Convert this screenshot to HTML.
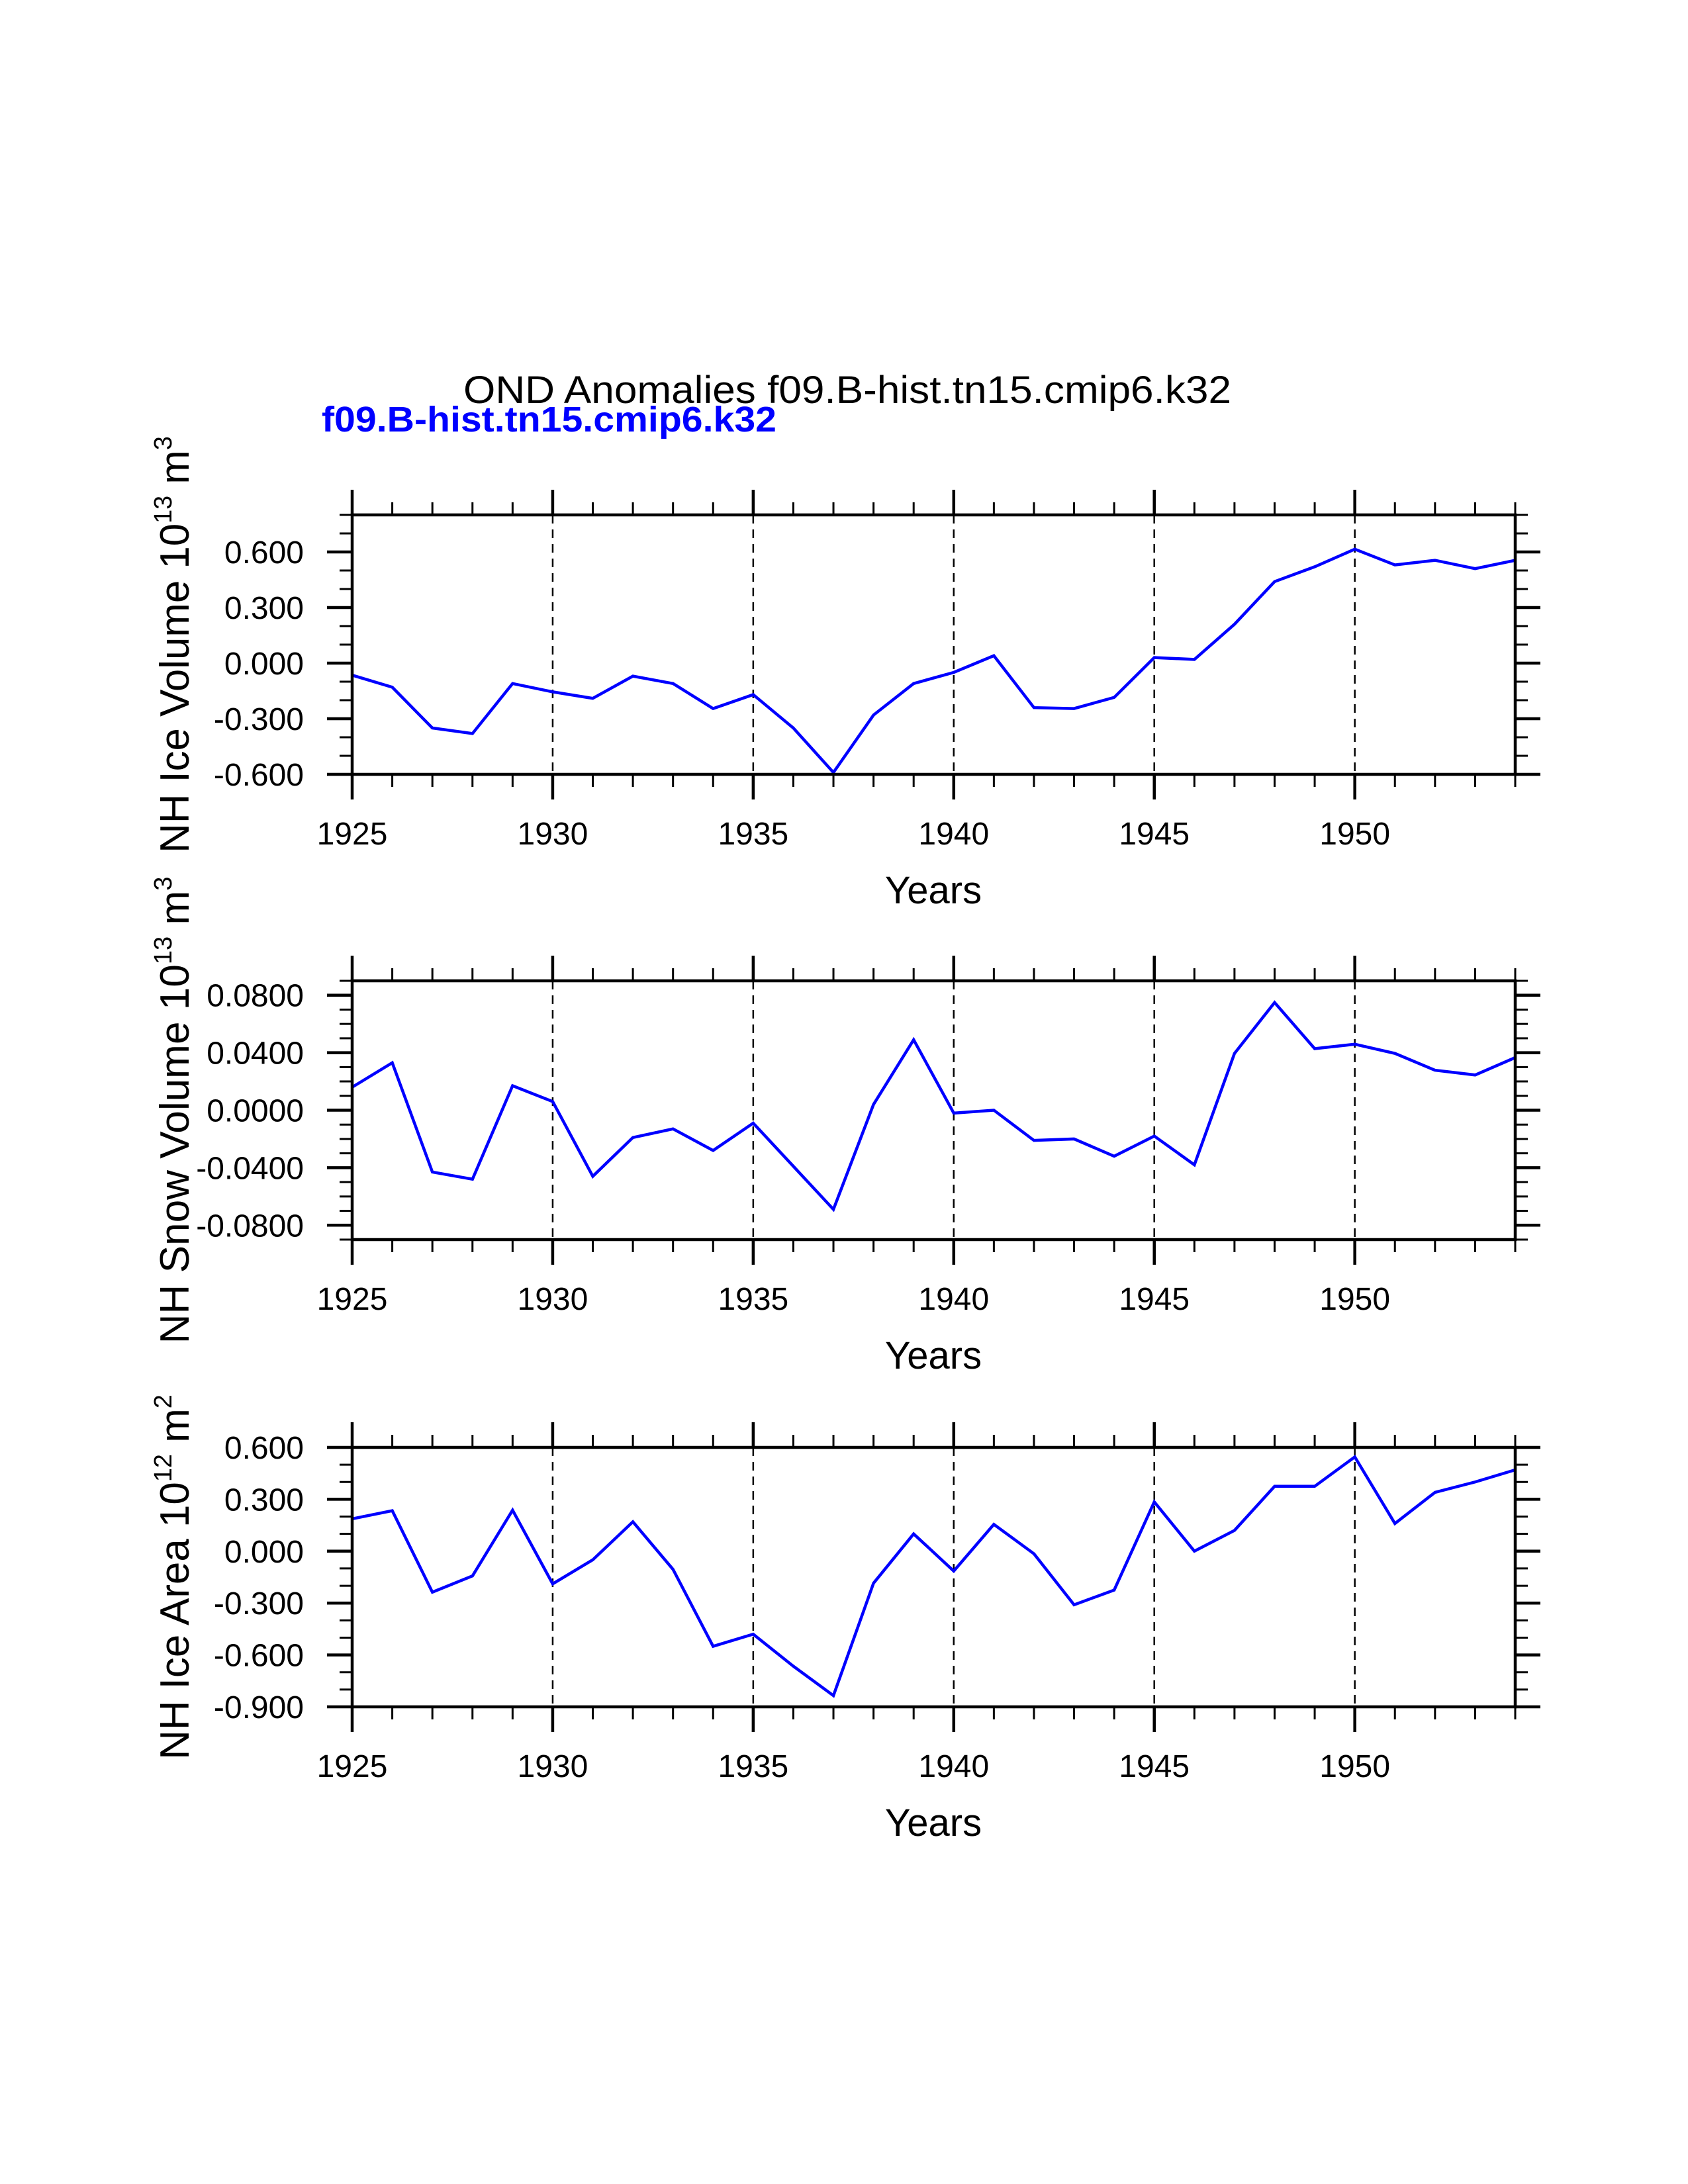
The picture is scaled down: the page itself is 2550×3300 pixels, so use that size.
<!DOCTYPE html>
<html><head><meta charset="utf-8"><style>
html,body{margin:0;padding:0;background:#fff;}
svg{display:block;font-family:"Liberation Sans",Arial,sans-serif;}
</style></head><body>
<svg id="chart" width="2550" height="3300" viewBox="0 0 2550 3300" xmlns="http://www.w3.org/2000/svg">
<rect width="2550" height="3300" fill="#fff"/>
<text x="1280" y="609" font-size="58" text-anchor="middle" textLength="1160" lengthAdjust="spacingAndGlyphs">OND Anomalies f09.B-hist.tn15.cmip6.k32</text>
<text x="486" y="652" font-size="54" font-weight="bold" fill="#0000ff" textLength="687" lengthAdjust="spacingAndGlyphs">f09.B-hist.tn15.cmip6.k32</text>
<g id="plots"></g>
</svg>
<script>
const years = [];
for (let y = 1925; y <= 1954; y++) years.push(y);
const xTickLabels = ["1925","1930","1935","1940","1945","1950"];

const iceVolume = [-0.065,-0.13,-0.35,-0.38,-0.11,-0.155,-0.19,-0.07,-0.11,-0.245,-0.17,-0.35,-0.59,-0.28,-0.11,-0.05,0.04,-0.24,-0.245,-0.185,0.03,0.02,0.21,0.44,0.52,0.615,0.53,0.555,0.51,0.555];
const snowVolume = [0.016,0.033,-0.043,-0.048,0.017,0.006,-0.046,-0.019,-0.013,-0.028,-0.009,-0.039,-0.069,0.004,0.049,-0.002,0.000,-0.021,-0.020,-0.032,-0.018,-0.038,0.0395,0.0749,0.0428,0.0459,0.0395,0.0278,0.0245,0.0366];
const iceArea = [0.187,0.234,-0.237,-0.143,0.237,-0.189,-0.05,0.17,-0.105,-0.55,-0.48,-0.665,-0.835,-0.185,0.1,-0.115,0.155,-0.015,-0.31,-0.225,0.285,0.0,0.12,0.375,0.375,0.545,0.16,0.34,0.40,0.47];

const iceVolumeTicks = ["0.600","0.300","0.000","-0.300","-0.600"];
const snowVolumeTicks = ["0.0800","0.0400","0.0000","-0.0400","-0.0800"];
const iceAreaTicks = ["0.600","0.300","0.000","-0.300","-0.600","-0.900"];

const NS = "http://www.w3.org/2000/svg";
const root = document.getElementById("plots");
const X0 = 532, X1 = 2289;
function xScale(yr){ return X0 + (yr - 1925) * (X1 - X0) / 29; }

function mk(tag, attrs, parent){
  const e = document.createElementNS(NS, tag);
  for (const k in attrs) e.setAttribute(k, attrs[k]);
  parent.appendChild(e);
  return e;
}

const panels = [
  {key:"ice-volume", top:778, bottom:1170, ymin:-0.6, ymax:0.8, minor:0.1, data:iceVolume, labels:iceVolumeTicks, title:"NH Ice Volume 10", exp:"13", unit:" m", uexp:"3", tlen:630},
  {key:"snow-volume", top:1482, bottom:1873, ymin:-0.09, ymax:0.09, minor:0.01, data:snowVolume, labels:snowVolumeTicks, title:"NH Snow Volume 10", exp:"13", unit:" m", uexp:"3", tlen:706},
  {key:"ice-area", top:2187, bottom:2579, ymin:-0.9, ymax:0.6, minor:0.1, data:iceArea, labels:iceAreaTicks, title:"NH Ice Area 10", exp:"12", unit:" m", uexp:"2", tlen:552}
];

panels.forEach(p => {
  const g = mk("g", {}, root);
  
  
  const yScale = v => p.bottom - (v - p.ymin) * (p.bottom - p.top) / (p.ymax - p.ymin);

  xTickLabels.forEach(lbl => {
    const x = xScale(+lbl);
    if (+lbl === 1925) return;
    const l = mk("line", {x1:x, x2:x, y1:p.top, y2:p.bottom, stroke:"#000", "stroke-width":2.5, "stroke-dasharray":"13,9"}, g);
    
    
  });

  years.forEach(yr => {
    const x = xScale(yr);
    const major = (yr - 1925) % 5 === 0;
    const len = major ? 38 : 19;
    const w = major ? 4.5 : 3;
    const t1 = mk("line", {x1:x, x2:x, y1:p.bottom, y2:p.bottom + len, stroke:"#000", "stroke-width":w}, g);
    
    
    const t2 = mk("line", {x1:x, x2:x, y1:p.top, y2:p.top - len, stroke:"#000", "stroke-width":w}, g);
    
    
  });

  const nMinor = Math.round((p.ymax - p.ymin) / p.minor);
  const majorVals = p.labels.map(Number);
  for (let i = 0; i <= nMinor; i++) {
    const v = p.ymin + i * p.minor;
    const y = yScale(v);
    const major = majorVals.some(m => Math.abs(m - v) < p.minor / 10);
    const len = major ? 38 : 19;
    const w = major ? 4.5 : 3;
    const a = mk("line", {x1:X0, x2:X0 - len, y1:y, y2:y, stroke:"#000", "stroke-width":w}, g);
    
    
    const b = mk("line", {x1:X1, x2:X1 + len, y1:y, y2:y, stroke:"#000", "stroke-width":w}, g);
    
    
  }

  p.labels.forEach(lbl => {
    const t = mk("text", {x:459, y:yScale(+lbl) + 17, "font-size":48, "text-anchor":"end"}, g);
    t.textContent = lbl;
    
    
  });

  xTickLabels.forEach(lbl => {
    const t = mk("text", {x:xScale(+lbl), y:p.bottom + 106, "font-size":48, "text-anchor":"middle"}, g);
    t.textContent = lbl;
    
    
  });

  const xt = mk("text", {x:1410, y:p.bottom + 195, "font-size":58, "text-anchor":"middle"}, g);
  xt.textContent = "Years";
  
  

  const cy = (p.top + p.bottom) / 2;
  const yt = mk("text", {x:0, y:0, "font-size":62, "text-anchor":"middle", transform:"translate(285," + cy + ") rotate(-90)"}, g);
  
  
  const s1 = mk("tspan", {}, yt); s1.textContent = p.title;
  const s2 = mk("tspan", {dy:-26, "font-size":38}, yt); s2.textContent = p.exp;
  const s3 = mk("tspan", {dy:26}, yt); s3.textContent = p.unit;
  const s4 = mk("tspan", {dy:-26, "font-size":38}, yt); s4.textContent = p.uexp;
  try {
    const w = yt.getBBox().width;
    if (w > 0) {
      const s = p.tlen / w;
      yt.setAttribute("transform", "translate(285," + cy + ") rotate(-90) scale(" + s + ",1)");
    }
  } catch (e) {}

  const pts = p.data.map((v, i) => xScale(years[i]) + "," + yScale(v)).join(" ");
  const pl = mk("polyline", {points:pts, fill:"none", stroke:"#0000ff", "stroke-width":4.5, "stroke-linejoin":"miter"}, g);
  
  

  const fr = mk("rect", {x:X0, y:p.top, width:X1 - X0, height:p.bottom - p.top, fill:"none", stroke:"#000", "stroke-width":4.5}, g);
  
  
});
</script>
</body></html>
